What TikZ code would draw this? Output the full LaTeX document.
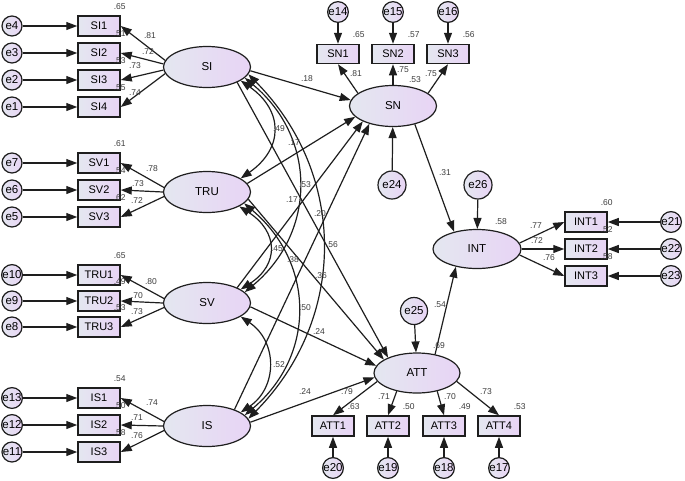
\documentclass[tikz,border=0pt]{standalone}
\usepackage{fontspec}
\setmainfont{Liberation Sans}
\usetikzlibrary{arrows.meta,shapes.geometric}
\definecolor{fillL}{RGB}{228,231,240}
\definecolor{fillR}{RGB}{232,212,245}
\definecolor{edgecol}{RGB}{30,30,30}
\definecolor{numcol}{RGB}{60,60,60}
\begin{document}
\begin{tikzpicture}[x=1pt,y=-1pt,
 obs/.style={draw=edgecol, line width=1.5pt, left color=fillL, right color=fillR, minimum width=42pt, minimum height=20pt, inner sep=0pt, font=\fontsize{11}{11}\selectfont},
 lat/.style={ellipse, draw=edgecol, line width=1.2pt, left color=fillL, right color=fillR, minimum width=87pt, minimum height=41pt, inner sep=0pt, font=\fontsize{11.5}{12}\selectfont},
 err/.style={circle, draw=edgecol, line width=1.2pt, left color=fillL, right color=fillR, minimum size=20pt, inner sep=0pt, font=\fontsize{11.5}{12}\selectfont},
 bigerr/.style={err, minimum size=28pt},
 num/.style={text=numcol, font=\fontsize{8.5}{8.5}\selectfont, inner sep=0pt},
 arr/.style={draw=edgecol, line width=1.2pt, -{Triangle[length=11pt,width=8pt]}},
 cov/.style={draw=edgecol, line width=1.2pt, {Triangle[length=11pt,width=8pt]}-{Triangle[length=11pt,width=8pt]}},
]
\useasboundingbox (0,0) rectangle (685,480);
% ---------- left: SI ----------
\node[err] (e4) at (12,26) {e4};
\node[err] (e3) at (12,53) {e3};
\node[err] (e2) at (12,80) {e2};
\node[err] (e1) at (12,107) {e1};
\node[obs] (SI1) at (99,26) {SI1};
\node[obs] (SI2) at (99,53) {SI2};
\node[obs] (SI3) at (99,80) {SI3};
\node[obs] (SI4) at (99,107) {SI4};
\node[lat] (SI) at (207,67) {SI};
% ---------- TRU (SV indicators) ----------
\node[err] (e7) at (12,163) {e7};
\node[err] (e6) at (12,190) {e6};
\node[err] (e5) at (12,217) {e5};
\node[obs] (SV1) at (99,163) {SV1};
\node[obs] (SV2) at (99,190) {SV2};
\node[obs] (SV3) at (99,217) {SV3};
\node[lat] (TRU) at (207,192) {TRU};
% ---------- SV (TRU indicators) ----------
\node[err] (e10) at (12,275) {e10};
\node[err] (e9) at (12,301) {e9};
\node[err] (e8) at (12,327) {e8};
\node[obs] (TRU1) at (99,275) {TRU1};
\node[obs] (TRU2) at (99,301) {TRU2};
\node[obs] (TRU3) at (99,327) {TRU3};
\node[lat] (SV) at (207,303) {SV};
% ---------- IS ----------
\node[err] (e13) at (12,398) {e13};
\node[err] (e12) at (12,425) {e12};
\node[err] (e11) at (12,452) {e11};
\node[obs] (IS1) at (99,398) {IS1};
\node[obs] (IS2) at (99,425) {IS2};
\node[obs] (IS3) at (99,452) {IS3};
\node[lat] (IS) at (207,426) {IS};
% ---------- SN ----------
\node[lat] (SN) at (393,106) {SN};
\node[obs, minimum height=19pt] (SN1) at (338,54) {SN1};
\node[obs, minimum height=19pt] (SN2) at (393,54) {SN2};
\node[obs, minimum height=19pt] (SN3) at (448,54) {SN3};
\node[err] (e14) at (338,12) {e14};
\node[err] (e15) at (393,12) {e15};
\node[err] (e16) at (448,12) {e16};
\node[bigerr] (e24) at (392,185) {e24};
% ---------- INT ----------
\node[lat, minimum width=88pt, minimum height=39pt] (INT) at (477,249) {INT};
\node[bigerr] (e26) at (478,185) {e26};
\node[obs] (INT1) at (586,222) {INT1};
\node[obs] (INT2) at (586,249) {INT2};
\node[obs] (INT3) at (586,276) {INT3};
\node[err] (e21) at (671,222) {e21};
\node[err] (e22) at (671,249) {e22};
\node[err] (e23) at (671,276) {e23};
% ---------- ATT ----------
\node[lat, minimum width=86pt, minimum height=40pt] (ATT) at (417,373) {ATT};
\node[bigerr, minimum size=27pt] (e25) at (414,311) {e25};
\node[obs] (ATT1) at (333,426) {ATT1};
\node[obs] (ATT2) at (388,426) {ATT2};
\node[obs] (ATT3) at (444,426) {ATT3};
\node[obs] (ATT4) at (499,426) {ATT4};
\node[err] (e20) at (333,468) {e20};
\node[err] (e19) at (388,468) {e19};
\node[err] (e18) at (444,468) {e18};
\node[err] (e17) at (499,468) {e17};
% ---------- error arrows ----------
\foreach \e/\b in {e4/SI1,e3/SI2,e2/SI3,e1/SI4,e7/SV1,e6/SV2,e5/SV3,e10/TRU1,e9/TRU2,e8/TRU3,e13/IS1,e12/IS2,e11/IS3,e14/SN1,e15/SN2,e16/SN3,e21/INT1,e22/INT2,e23/INT3,e20/ATT1,e19/ATT2,e18/ATT3,e17/ATT4,e24/SN,e26/INT,e25/ATT}
  \draw[arr] (\e) -- (\b);
% ---------- loadings ----------
\draw[arr] (SI.171) -- (SI1.east);
\draw[arr] (SI.176) -- (SI2.east);
\draw[arr] (SI.184) -- (SI3.east);
\draw[arr] (SI.189) -- (SI4.east);
\draw[arr] (TRU.174) -- (SV1.east);
\draw[arr] (TRU.180) -- (SV2.east);
\draw[arr] (TRU.186) -- (SV3.east);
\draw[arr] (SV.174) -- (TRU1.east);
\draw[arr] (SV.180) -- (TRU2.east);
\draw[arr] (SV.186) -- (TRU3.east);
\draw[arr] (IS.174) -- (IS1.east);
\draw[arr] (IS.180) -- (IS2.east);
\draw[arr] (IS.186) -- (IS3.east);
\draw[arr] (SN.160) -- (SN1.south);
\draw[arr] (SN.north) -- (SN2.south);
\draw[arr] (SN.20) -- (SN3.south);
\draw[arr] (INT.8) -- (INT1.west);
\draw[arr] (INT.east) -- (INT2.west);
\draw[arr] (INT.-8) -- (INT3.west);
\draw[arr] (ATT.192) -- (ATT1.north);
\draw[arr] (ATT.222) -- (ATT2.north);
\draw[arr] (ATT.318) -- (ATT3.north);
\draw[arr] (ATT.348) -- (ATT4.north);
% ---------- structural paths ----------
\draw[arr] (SI.-5) -- (SN.172);
\draw[arr] (TRU.12) -- (SN.196);
\draw[arr] (SV.27) -- (SN.207);
\draw[arr] (IS.31) -- (SN.217);
\draw[arr] (SI.-27) -- (ATT.152);
\draw[arr] (TRU.-10) -- (ATT.158);
\draw[arr] (SV.-5) -- (ATT.170);
\draw[arr] (IS.5) -- (ATT.186);
\draw[arr] (SN.-40) -- (INT.143);
\draw[arr] (ATT.46) -- (INT.220);
% ---------- covariances ----------
\draw[cov] (SI.-22) .. controls +(43,30) and +(43,-30) .. (TRU.22);
\draw[cov] (SI.-16) .. controls +(72,60) and +(72,-60) .. (SV.16);
\draw[cov] (SI.-10) .. controls +(99,100) and +(99,-100) .. (IS.10);
\draw[cov] (TRU.-24) .. controls +(39,25) and +(39,-25) .. (SV.22);
\draw[cov] (TRU.-17) .. controls +(71,60) and +(71,-60) .. (IS.16);
\draw[cov] (SV.-22) .. controls +(37,25) and +(37,-25) .. (IS.22);
% ---------- squared multiple correlations ----------
\foreach \b/\v in {SI1/.65,SI2/.51,SI3/.53,SI4/.55,SV1/.61,SV2/.54,SV3/.62,TRU1/.65,TRU2/.49,TRU3/.53,IS1/.54,IS2/.50,IS3/.58,SN1/.65,SN2/.57,SN3/.56,INT1/.60,INT2/.52,INT3/.58,ATT1/.63,ATT2/.50,ATT3/.49,ATT4/.53}
  \node[num] (r\b) at ([xshift=-1pt,yshift=9pt]\b.north east) {\v};
\node[num] (rSN) at (415,80) {.53};
\node[num] (rINT) at (501,222) {.58};
\node[num] (rATT) at (439,346) {.69};
% ---------- loading labels ----------
\node[num] (l1) at (150,36) {.81};
\node[num] (l2) at (148,52) {.72};
\node[num] (l3) at (135,66) {.73};
\node[num] (l4) at (135,93) {.74};
\node[num] (l5) at (152,169) {.78};
\node[num] (l6) at (138,184) {.73};
\node[num] (l7) at (137,201) {.72};
\node[num] (l8) at (151,282) {.80};
\node[num] (l9) at (137,296) {.70};
\node[num] (l10) at (137,312) {.73};
\node[num] (l11) at (152,403) {.74};
\node[num] (l12) at (137,418) {.71};
\node[num] (l13) at (137,436) {.76};
\node[num] (l14) at (356,74) {.81};
\node[num] (l15) at (403,70) {.75};
\node[num] (l16) at (431,74) {.75};
\node[num] (l17) at (536,226) {.77};
\node[num] (l18) at (537,241) {.72};
\node[num] (l19) at (549,258) {.76};
\node[num] (l20) at (347,392) {.79};
\node[num] (l21) at (384,397) {.71};
\node[num] (l22) at (450,397) {.70};
\node[num] (l23) at (486,392) {.73};
% ---------- path / covariance labels ----------
\node[num] (p1) at (307,79) {.18};
\node[num] (p2) at (445,173) {.31};
\node[num] (p3) at (440,305) {.54};
\node[num] (p4) at (319,332) {.24};
\node[num] (p5) at (305,392) {.24};
\node[num] (c1) at (279,129) {.49};
\node[num] (c2) at (294,143) {.17};
\node[num] (c3) at (305,185) {.53};
\node[num] (c4) at (292,200) {.17};
\node[num] (c5) at (320,214) {.20};
\node[num] (c6) at (332,245) {.56};
\node[num] (c7) at (277,249) {.45};
\node[num] (c8) at (293,260) {.38};
\node[num] (c9) at (321,276) {.36};
\node[num] (c10) at (305,308) {.50};
\node[num] (c11) at (279,365) {.52};
\end{tikzpicture}
\end{document}
